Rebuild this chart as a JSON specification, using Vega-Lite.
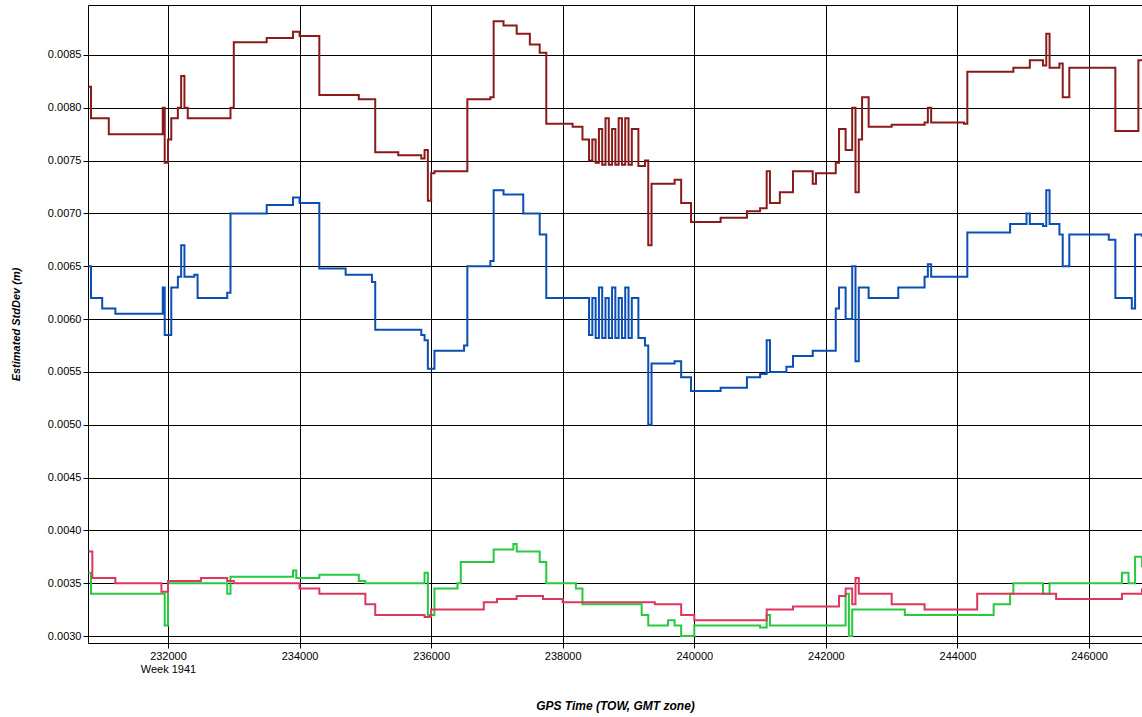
{
  "$schema": "https://vega.github.io/schema/vega-lite/v6.json",
  "width": 1054,
  "height": 638,
  "autosize": "none",
  "padding": {"left": 88, "top": 5, "right": 0, "bottom": 74},
  "background": "white",
  "config": {"view": {"stroke": "black", "strokeWidth": 1}},
  "data": {"values": [
    {"s":"r","t":230790,"v":0.0082},{"s":"r","t":230830,"v":0.0079},{"s":"r","t":231000,"v":0.0079},{"s":"r","t":231100,"v":0.00775},{"s":"r","t":231900,"v":0.00775},{"s":"r","t":231920,"v":0.008},{"s":"r","t":231950,"v":0.00748},{"s":"r","t":232000,"v":0.0077},{"s":"r","t":232050,"v":0.0079},{"s":"r","t":232150,"v":0.008},{"s":"r","t":232200,"v":0.0083},{"s":"r","t":232250,"v":0.008},{"s":"r","t":232300,"v":0.0079},{"s":"r","t":232800,"v":0.0079},{"s":"r","t":232950,"v":0.008},{"s":"r","t":233000,"v":0.00862},{"s":"r","t":233500,"v":0.00866},{"s":"r","t":233900,"v":0.00872},{"s":"r","t":234000,"v":0.00868},{"s":"r","t":234250,"v":0.00868},{"s":"r","t":234300,"v":0.00812},{"s":"r","t":234900,"v":0.00808},{"s":"r","t":235100,"v":0.00808},{"s":"r","t":235150,"v":0.00758},{"s":"r","t":235500,"v":0.00755},{"s":"r","t":235850,"v":0.00752},{"s":"r","t":235900,"v":0.0076},{"s":"r","t":235950,"v":0.00712},{"s":"r","t":236000,"v":0.00738},{"s":"r","t":236050,"v":0.0074},{"s":"r","t":236500,"v":0.0074},{"s":"r","t":236550,"v":0.00808},{"s":"r","t":236900,"v":0.0081},{"s":"r","t":236950,"v":0.00882},{"s":"r","t":237100,"v":0.00878},{"s":"r","t":237300,"v":0.0087},{"s":"r","t":237500,"v":0.0086},{"s":"r","t":237650,"v":0.00852},{"s":"r","t":237750,"v":0.00785},{"s":"r","t":238150,"v":0.00782},{"s":"r","t":238250,"v":0.00782},{"s":"r","t":238300,"v":0.0077},{"s":"r","t":238400,"v":0.0075},{"s":"r","t":238450,"v":0.0077},{"s":"r","t":238500,"v":0.00748},{"s":"r","t":238550,"v":0.0078},{"s":"r","t":238600,"v":0.00746},{"s":"r","t":238650,"v":0.0079},{"s":"r","t":238700,"v":0.00746},{"s":"r","t":238750,"v":0.0078},{"s":"r","t":238800,"v":0.00746},{"s":"r","t":238850,"v":0.0079},{"s":"r","t":238900,"v":0.00746},{"s":"r","t":238950,"v":0.0079},{"s":"r","t":239000,"v":0.00746},{"s":"r","t":239050,"v":0.0078},{"s":"r","t":239150,"v":0.00745},{"s":"r","t":239250,"v":0.0075},{"s":"r","t":239300,"v":0.0067},{"s":"r","t":239350,"v":0.00728},{"s":"r","t":239700,"v":0.00732},{"s":"r","t":239800,"v":0.0071},{"s":"r","t":239950,"v":0.00692},{"s":"r","t":240400,"v":0.00696},{"s":"r","t":240800,"v":0.00702},{"s":"r","t":241000,"v":0.00705},{"s":"r","t":241100,"v":0.0074},{"s":"r","t":241150,"v":0.0071},{"s":"r","t":241300,"v":0.0072},{"s":"r","t":241400,"v":0.0072},{"s":"r","t":241500,"v":0.0074},{"s":"r","t":241800,"v":0.00728},{"s":"r","t":241850,"v":0.00738},{"s":"r","t":242150,"v":0.00748},{"s":"r","t":242200,"v":0.0078},{"s":"r","t":242300,"v":0.0076},{"s":"r","t":242400,"v":0.008},{"s":"r","t":242450,"v":0.0072},{"s":"r","t":242500,"v":0.0077},{"s":"r","t":242550,"v":0.0081},{"s":"r","t":242650,"v":0.00782},{"s":"r","t":243000,"v":0.00784},{"s":"r","t":243500,"v":0.00786},{"s":"r","t":243550,"v":0.008},{"s":"r","t":243600,"v":0.00786},{"s":"r","t":244100,"v":0.00785},{"s":"r","t":244150,"v":0.00834},{"s":"r","t":244850,"v":0.00838},{"s":"r","t":245000,"v":0.00838},{"s":"r","t":245100,"v":0.00845},{"s":"r","t":245300,"v":0.0084},{"s":"r","t":245350,"v":0.0087},{"s":"r","t":245400,"v":0.00838},{"s":"r","t":245550,"v":0.00842},{"s":"r","t":245600,"v":0.0081},{"s":"r","t":245700,"v":0.00838},{"s":"r","t":246350,"v":0.00838},{"s":"r","t":246400,"v":0.00778},{"s":"r","t":246700,"v":0.00778},{"s":"r","t":246750,"v":0.00845},{"s":"r","t":246805,"v":0.00845},

    {"s":"b","t":230790,"v":0.0065},{"s":"b","t":230830,"v":0.0062},{"s":"b","t":231000,"v":0.0061},{"s":"b","t":231200,"v":0.00605},{"s":"b","t":231900,"v":0.00605},{"s":"b","t":231920,"v":0.0063},{"s":"b","t":231950,"v":0.00585},{"s":"b","t":232050,"v":0.0063},{"s":"b","t":232150,"v":0.0064},{"s":"b","t":232200,"v":0.0067},{"s":"b","t":232250,"v":0.0064},{"s":"b","t":232400,"v":0.00642},{"s":"b","t":232450,"v":0.0062},{"s":"b","t":232900,"v":0.00625},{"s":"b","t":232950,"v":0.007},{"s":"b","t":233500,"v":0.00708},{"s":"b","t":233900,"v":0.00715},{"s":"b","t":234000,"v":0.0071},{"s":"b","t":234250,"v":0.0071},{"s":"b","t":234300,"v":0.00648},{"s":"b","t":234700,"v":0.00642},{"s":"b","t":235100,"v":0.00635},{"s":"b","t":235150,"v":0.0059},{"s":"b","t":235850,"v":0.00585},{"s":"b","t":235900,"v":0.0058},{"s":"b","t":235950,"v":0.00553},{"s":"b","t":236050,"v":0.0057},{"s":"b","t":236500,"v":0.00575},{"s":"b","t":236550,"v":0.0065},{"s":"b","t":236900,"v":0.00655},{"s":"b","t":236950,"v":0.00722},{"s":"b","t":237100,"v":0.00718},{"s":"b","t":237400,"v":0.007},{"s":"b","t":237650,"v":0.0068},{"s":"b","t":237750,"v":0.0062},{"s":"b","t":238300,"v":0.0062},{"s":"b","t":238400,"v":0.00585},{"s":"b","t":238450,"v":0.0062},{"s":"b","t":238500,"v":0.00582},{"s":"b","t":238550,"v":0.0063},{"s":"b","t":238600,"v":0.00582},{"s":"b","t":238650,"v":0.0062},{"s":"b","t":238700,"v":0.00582},{"s":"b","t":238750,"v":0.0063},{"s":"b","t":238800,"v":0.00582},{"s":"b","t":238850,"v":0.0062},{"s":"b","t":238900,"v":0.00582},{"s":"b","t":238950,"v":0.0063},{"s":"b","t":239000,"v":0.00582},{"s":"b","t":239050,"v":0.0062},{"s":"b","t":239150,"v":0.00582},{"s":"b","t":239250,"v":0.00575},{"s":"b","t":239300,"v":0.005},{"s":"b","t":239350,"v":0.00558},{"s":"b","t":239700,"v":0.0056},{"s":"b","t":239800,"v":0.00545},{"s":"b","t":239950,"v":0.00532},{"s":"b","t":240400,"v":0.00535},{"s":"b","t":240800,"v":0.00545},{"s":"b","t":241000,"v":0.00548},{"s":"b","t":241100,"v":0.0058},{"s":"b","t":241150,"v":0.0055},{"s":"b","t":241400,"v":0.00555},{"s":"b","t":241500,"v":0.00565},{"s":"b","t":241800,"v":0.0057},{"s":"b","t":242150,"v":0.0061},{"s":"b","t":242200,"v":0.0063},{"s":"b","t":242300,"v":0.006},{"s":"b","t":242400,"v":0.0065},{"s":"b","t":242450,"v":0.0056},{"s":"b","t":242500,"v":0.0063},{"s":"b","t":242650,"v":0.0062},{"s":"b","t":243100,"v":0.0063},{"s":"b","t":243500,"v":0.0064},{"s":"b","t":243550,"v":0.00652},{"s":"b","t":243600,"v":0.0064},{"s":"b","t":244100,"v":0.0064},{"s":"b","t":244150,"v":0.00682},{"s":"b","t":244800,"v":0.0069},{"s":"b","t":245000,"v":0.0069},{"s":"b","t":245050,"v":0.007},{"s":"b","t":245100,"v":0.0069},{"s":"b","t":245300,"v":0.00688},{"s":"b","t":245350,"v":0.00722},{"s":"b","t":245400,"v":0.0069},{"s":"b","t":245550,"v":0.0068},{"s":"b","t":245600,"v":0.0065},{"s":"b","t":245700,"v":0.0068},{"s":"b","t":246300,"v":0.00675},{"s":"b","t":246400,"v":0.0062},{"s":"b","t":246650,"v":0.0061},{"s":"b","t":246700,"v":0.0068},{"s":"b","t":246805,"v":0.00678},

    {"s":"g","t":230790,"v":0.0036},{"s":"g","t":230830,"v":0.0034},{"s":"g","t":231900,"v":0.0034},{"s":"g","t":231950,"v":0.0031},{"s":"g","t":232000,"v":0.0035},{"s":"g","t":232900,"v":0.0034},{"s":"g","t":232950,"v":0.00356},{"s":"g","t":233900,"v":0.00362},{"s":"g","t":233950,"v":0.00355},{"s":"g","t":234300,"v":0.00358},{"s":"g","t":234900,"v":0.00352},{"s":"g","t":235000,"v":0.0035},{"s":"g","t":235800,"v":0.0035},{"s":"g","t":235900,"v":0.0036},{"s":"g","t":235950,"v":0.0032},{"s":"g","t":236050,"v":0.00345},{"s":"g","t":236400,"v":0.0035},{"s":"g","t":236450,"v":0.0037},{"s":"g","t":236900,"v":0.0037},{"s":"g","t":236950,"v":0.00382},{"s":"g","t":237200,"v":0.00382},{"s":"g","t":237250,"v":0.00387},{"s":"g","t":237300,"v":0.0038},{"s":"g","t":237650,"v":0.0037},{"s":"g","t":237750,"v":0.0035},{"s":"g","t":238200,"v":0.00345},{"s":"g","t":238300,"v":0.0033},{"s":"g","t":239200,"v":0.0032},{"s":"g","t":239300,"v":0.0031},{"s":"g","t":239600,"v":0.00315},{"s":"g","t":239700,"v":0.0031},{"s":"g","t":239800,"v":0.003},{"s":"g","t":240000,"v":0.0031},{"s":"g","t":241000,"v":0.00308},{"s":"g","t":241100,"v":0.0032},{"s":"g","t":241150,"v":0.0031},{"s":"g","t":242200,"v":0.0031},{"s":"g","t":242300,"v":0.0034},{"s":"g","t":242350,"v":0.003},{"s":"g","t":242400,"v":0.00325},{"s":"g","t":242800,"v":0.00325},{"s":"g","t":243200,"v":0.0032},{"s":"g","t":244500,"v":0.0032},{"s":"g","t":244550,"v":0.0033},{"s":"g","t":244800,"v":0.0034},{"s":"g","t":244850,"v":0.0035},{"s":"g","t":245300,"v":0.0034},{"s":"g","t":245400,"v":0.0035},{"s":"g","t":246000,"v":0.0035},{"s":"g","t":246500,"v":0.0036},{"s":"g","t":246600,"v":0.0035},{"s":"g","t":246700,"v":0.00375},{"s":"g","t":246805,"v":0.00365},

    {"s":"p","t":230790,"v":0.0038},{"s":"p","t":230850,"v":0.00355},{"s":"p","t":231200,"v":0.0035},{"s":"p","t":231900,"v":0.00342},{"s":"p","t":232000,"v":0.00352},{"s":"p","t":232500,"v":0.00355},{"s":"p","t":232900,"v":0.00352},{"s":"p","t":233000,"v":0.0035},{"s":"p","t":234000,"v":0.00345},{"s":"p","t":234300,"v":0.0034},{"s":"p","t":235000,"v":0.0033},{"s":"p","t":235150,"v":0.0032},{"s":"p","t":235900,"v":0.00318},{"s":"p","t":236000,"v":0.00325},{"s":"p","t":236500,"v":0.00325},{"s":"p","t":236800,"v":0.00332},{"s":"p","t":237000,"v":0.00335},{"s":"p","t":237300,"v":0.00338},{"s":"p","t":237700,"v":0.00335},{"s":"p","t":238000,"v":0.00332},{"s":"p","t":239200,"v":0.00332},{"s":"p","t":239400,"v":0.0033},{"s":"p","t":239800,"v":0.0032},{"s":"p","t":240000,"v":0.00315},{"s":"p","t":241000,"v":0.00315},{"s":"p","t":241100,"v":0.00325},{"s":"p","t":241500,"v":0.00328},{"s":"p","t":242200,"v":0.00338},{"s":"p","t":242300,"v":0.00345},{"s":"p","t":242400,"v":0.0033},{"s":"p","t":242450,"v":0.00355},{"s":"p","t":242500,"v":0.0034},{"s":"p","t":243000,"v":0.0033},{"s":"p","t":243500,"v":0.00325},{"s":"p","t":244200,"v":0.00325},{"s":"p","t":244300,"v":0.0034},{"s":"p","t":245500,"v":0.00335},{"s":"p","t":246500,"v":0.0034},{"s":"p","t":246805,"v":0.00345}
  ]},
  "mark": {"type": "line", "strokeWidth": 2, "clip": true, "interpolate": "step-after"},
  "encoding": {
    "x": {
      "field": "t", "type": "quantitative",
      "scale": {"domain": [230784, 246805], "nice": false, "zero": false},
      "axis": {
        "title": "GPS Time (TOW, GMT zone)", "titleFont": "Liberation Sans", "titleFontStyle": "italic", "titleFontWeight": "bold", "titleFontSize": 12, "titlePadding": 26,
        "values": [232000, 234000, 236000, 238000, 240000, 242000, 244000, 246000],
        "labelExpr": "datum.value == 232000 ? ['232000', 'Week 1941'] : format(datum.value, 'd')",
        "labelFont": "Liberation Sans", "labelFontSize": 11, "labelColor": "black",
        "grid": true, "gridColor": "black", "gridOpacity": 1, "domain": false, "tickColor": "black"
      }
    },
    "y": {
      "field": "v", "type": "quantitative",
      "scale": {"domain": [0.002934, 0.008973], "nice": false, "zero": false},
      "axis": {
        "title": "Estimated StdDev (m)", "titleFont": "Liberation Sans", "titleFontStyle": "italic", "titleFontWeight": "bold", "titleFontSize": 11, "titlePadding": 26,
        "values": [0.003, 0.0035, 0.004, 0.0045, 0.005, 0.0055, 0.006, 0.0065, 0.007, 0.0075, 0.008, 0.0085],
        "format": ".4f", "labelFont": "Liberation Sans", "labelFontSize": 11, "labelColor": "black",
        "grid": true, "gridColor": "black", "gridOpacity": 1, "domain": false, "tickColor": "black"
      }
    },
    "color": {
      "field": "s", "type": "nominal", "legend": null,
      "scale": {"domain": ["r", "b", "g", "p"], "range": ["#8b1a1a", "#0b4fb4", "#27c93f", "#e0355e"]}
    }
  }
}
